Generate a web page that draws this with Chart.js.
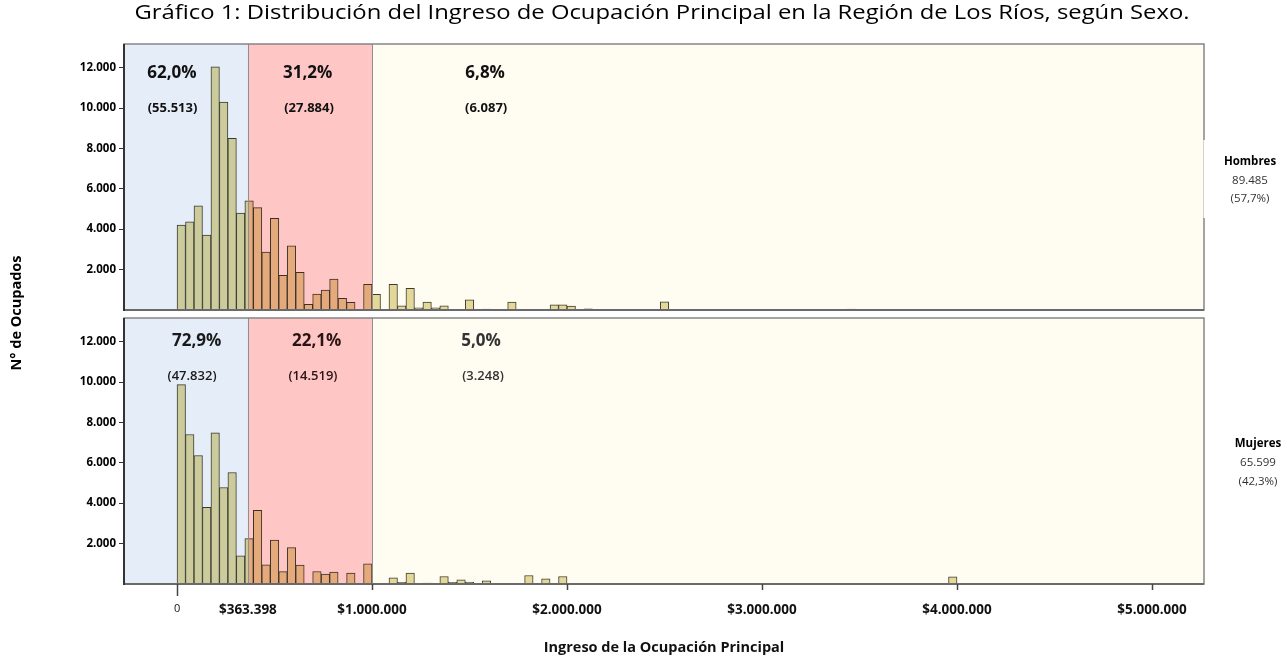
<!DOCTYPE html>
<html><head><meta charset="utf-8">
<script src="https://cdn.jsdelivr.net/npm/chart.js@4/dist/chart.umd.min.js"></script>
<style>
html,body{margin:0;padding:0;background:#fff;}
#wrap{position:relative;width:1285px;height:660px;overflow:hidden;}
canvas{position:absolute;left:0;top:0;}
</style></head><body>
<div id="wrap"><canvas id="c1" width="1285" height="660"></canvas><canvas id="c2" width="1285" height="660"></canvas></div>
<script>
// ---------- DATA ----------
const tituloGrafico = 'Gráfico 1: Distribución del Ingreso de Ocupación Principal en la Región de Los Ríos, según Sexo.';
const tituloEjeY = 'N° de Ocupados';
const tituloEjeX = 'Ingreso de la Ocupación Principal';
const anchoTramo = 1000000 / 23;           // histogram bin width ($)
// N° de ocupados per bin (bin i covers [i*anchoTramo, (i+1)*anchoTramo) )
const hombres = [
  4200, 4370, 5160, 3710, 12040, 10300, 8500, 4800, 5400, 5070,
  2870, 4540, 1720, 3180, 1860, 280, 790, 990, 1530, 580,
  380, null, 1270, 780, null, 1270, 210, 1070, 110, 390,
  110, 210, null, null, 500, null, 50, null, null, 390,
  null, null, null, null, 250, 250, 200, null, 60, null,
  null, null, null, null, null, null, null, 400, null, null,
  null, null, null, null, null, null, null, null, null, null,
  null, null, null, null, null, null, null, null, null, 50,
  null, null, null, null, null, null, null, null, null, null,
  null, null
];
const mujeres = [
  9870, 7400, 6360, 3790, 7490, 4780, 5520, 1390, 2250, 3650,
  950, 2180, 610, 1800, 940, null, 620, 490, 590, null,
  540, null, 1000, null, null, 310, 80, 540, null, 40,
  null, 370, 80, 210, 100, null, 160, null, null, null,
  null, 420, null, 250, null, 370, null, null, null, null,
  null, null, null, null, null, null, null, null, null, null,
  null, null, null, null, null, null, null, null, null, null,
  null, null, null, null, null, null, null, null, null, null,
  null, null, null, null, null, null, null, null, null, null,
  null, 350
];
const limitesTramos = [363398, 1000000];
const xTickValues = [0, 363398, 1000000, 2000000, 3000000, 4000000, 5000000];
const xTickLabels = ['0', '$363.398', '$1.000.000', '$2.000.000', '$3.000.000', '$4.000.000', '$5.000.000'];
const yTickValues = [2000, 4000, 6000, 8000, 10000, 12000];
const yTickLabels = ['2.000', '4.000', '6.000', '8.000', '10.000', '12.000'];
const hombresPct = ['62,0%', '31,2%', '6,8%'];
const hombresN = ['(55.513)', '(27.884)', '(6.087)'];
const mujeresPct = ['72,9%', '22,1%', '5,0%'];
const mujeresN = ['(47.832)', '(14.519)', '(3.248)'];
const hombresTotal = ['Hombres', '89.485', '(57,7%)'];
const mujeresTotal = ['Mujeres', '65.599', '(42,3%)'];

// ---------- STYLE ----------
const FONT = "'Open Sans', 'Noto Sans', sans-serif";
const X_MIN = -272000, X_MAX = 5266667, Y_MAX = 13170;

const toPoints = arr => arr.map((v, i) => ({ x: (i + 0.5) * anchoTramo, y: v }));

function stretchedText(ctx, text, cx, cy, width) {
  const w = ctx.measureText(text).width;
  ctx.save();
  ctx.translate(cx, cy);
  ctx.scale(width / w, 1);
  ctx.fillText(text, 0, 0);
  ctx.restore();
}

const panelPlugin = {
  id: 'panel',
  afterDatasetsDraw(chart, args, o) {
    const { ctx, chartArea: a, scales: { x } } = chart;
    const b1 = x.getPixelForValue(limitesTramos[0]);
    const b2 = x.getPixelForValue(limitesTramos[1]);
    const h = a.bottom - a.top;
    ctx.save();
    ctx.globalCompositeOperation = 'multiply';
    ctx.fillStyle = '#e5edf8'; ctx.fillRect(a.left, a.top, b1 - a.left, h);
    ctx.fillStyle = '#ffc6c6'; ctx.fillRect(b1, a.top, b2 - b1, h);
    ctx.fillStyle = '#fffcf2'; ctx.fillRect(b2, a.top, a.right - b2, h);
    ctx.restore();
    ctx.save();
    ctx.strokeStyle = '#8f8f8f'; ctx.lineWidth = 1;
    [b1, b2].forEach(p => { ctx.beginPath(); ctx.moveTo(Math.round(p) + 0.5, a.top); ctx.lineTo(Math.round(p) + 0.5, a.bottom); ctx.stroke(); });
    ctx.strokeStyle = '#858585'; ctx.lineWidth = 1.5;
    ctx.strokeRect(a.left, a.top, a.right - a.left, h);
    ctx.strokeStyle = '#6a6a6a'; ctx.lineWidth = 2;
    ctx.beginPath(); ctx.moveTo(a.left, a.bottom); ctx.lineTo(a.right, a.bottom); ctx.stroke();
    ctx.strokeStyle = '#333'; ctx.lineWidth = 2;
    ctx.beginPath(); ctx.moveTo(a.left, a.top); ctx.lineTo(a.left, a.bottom + 1); ctx.stroke();
    if (o.xTicks) {
      ctx.strokeStyle = '#444'; ctx.lineWidth = 1.5;
      xTickValues.forEach(v => {
        if (v === limitesTramos[0]) return;
        const p = Math.round(x.getPixelForValue(v)) + 0.5;
        ctx.beginPath(); ctx.moveTo(p, a.bottom); ctx.lineTo(p, a.bottom + (v === 0 ? 12 : 6)); ctx.stroke();
      });
    }
    ctx.restore();
  },
  afterDraw(chart, args, o) {
    const { ctx, chartArea: a, scales: { x, y } } = chart;
    ctx.save();
    ctx.textAlign = 'center'; ctx.textBaseline = 'middle';
    for (let i = 0; i < 3; i++) {
      ctx.fillStyle = o.colors[i];
      ctx.font = `bold ${o.pctSize}px ${FONT}`;
      ctx.fillText(o.pct[i], x.getPixelForValue(o.pctX[i]), y.getPixelForValue(o.pctY));
      ctx.font = `${o.nWeight} ${o.nSize}px ${FONT}`;
      ctx.fillText(o.n[i], x.getPixelForValue(o.nX[i]), y.getPixelForValue(o.nY));
    }
    if (o.whiteBox) { ctx.fillStyle = '#fff'; ctx.fillRect(...o.whiteBox); }
    ctx.fillStyle = '#000';
    ctx.font = `bold 11.5px ${FONT}`;
    ctx.fillText(o.total[0], o.totalX, o.totalY[0]);
    ctx.fillStyle = '#333';
    ctx.font = `11.5px ${FONT}`;
    ctx.fillText(o.total[1], o.totalX, o.totalY[1]);
    ctx.fillText(o.total[2], o.totalX, o.totalY[2]);
    if (o.mainTitle) {
      ctx.fillStyle = '#000';
      ctx.font = `20px ${FONT}`;
      stretchedText(ctx, tituloGrafico, 662, 13, 1055);
      ctx.font = `bold 13.5px ${FONT}`;
      ctx.translate(17, 313); ctx.rotate(-Math.PI / 2);
      stretchedText(ctx, tituloEjeY, 0, 0, 115);
    }
    ctx.restore();
  }
};

function yScale() {
  return {
    min: 0, max: Y_MAX,
    afterFit(s) { s.width = 124; },
    afterBuildTicks(s) { s.ticks = yTickValues.map(v => ({ value: v })); },
    ticks: { callback: v => yTickLabels[yTickValues.indexOf(v)], font: { family: FONT, size: 11.5, weight: 'bold' }, color: '#000', padding: 3 },
    grid: { drawOnChartArea: false, drawTicks: true, tickLength: 5, tickColor: '#333', offset: false },
    border: { display: false }
  };
}
function dataset(arr) {
  return { data: toPoints(arr), backgroundColor: '#e4dba0', borderColor: '#3e3e32', borderWidth: 1,
    borderSkipped: false, barPercentage: 1, categoryPercentage: 1 };
}

new Chart(document.getElementById('c1'), {
  type: 'bar',
  data: { datasets: [dataset(hombres)] },
  options: {
    responsive: false, animation: false, events: [],
    layout: { padding: { left: 0, right: 81, top: 44, bottom: 350 } },
    plugins: { legend: { display: false }, tooltip: { enabled: false },
      panel: { pct: hombresPct, n: hombresN, pctX: [-26000, 670000, 1580000], nX: [-23000, 677000, 1585000],
        pctY: 11730, nY: 10000, pctSize: 17, nSize: 13, nWeight: 'bold', colors: ['#111', '#111', '#111'],
        total: hombresTotal, totalX: 1250, totalY: [162, 181, 199], whiteBox: [1203.5, 140, 82, 78], mainTitle: true, xTicks: false } },
    scales: { x: { type: 'linear', min: X_MIN, max: X_MAX, display: false, offset: false }, y: yScale() }
  },
  plugins: [panelPlugin]
});

new Chart(document.getElementById('c2'), {
  type: 'bar',
  data: { datasets: [dataset(mujeres)] },
  options: {
    responsive: false, animation: false, events: [],
    layout: { padding: { left: 0, right: 81, top: 318, bottom: 0 } },
    plugins: { legend: { display: false }, tooltip: { enabled: false },
      panel: { pct: mujeresPct, n: mujeresN, pctX: [101000, 716000, 1559000], nX: [77000, 697000, 1569000],
        pctY: 12000, nY: 10300, pctSize: 17, nSize: 13, nWeight: '600', colors: ['#1a1a1a', '#2a1414', '#333'],
        total: mujeresTotal, totalX: 1258, totalY: [444, 462.5, 481.5], whiteBox: null, mainTitle: false, xTicks: true } },
    scales: {
      x: { type: 'linear', min: X_MIN, max: X_MAX, position: 'bottom', offset: false,
        afterFit(s) { s.height = 76; },
        afterBuildTicks(s) { s.ticks = xTickValues.map(v => ({ value: v })); },
        ticks: { autoSkip: false, maxRotation: 0, padding: 18, color: '#111',
          callback: v => xTickLabels[xTickValues.indexOf(v)],
          font: c => (c.tick && c.tick.value === 0) ? { family: FONT, size: 11, weight: 'normal' } : { family: FONT, size: 13.5, weight: 'bold' } },
        grid: { drawOnChartArea: false, drawTicks: false, tickLength: 6, offset: false },
        border: { display: false },
        title: { display: true, text: tituloEjeX, font: { family: FONT, size: 14.5, weight: 'bold' }, color: '#111', padding: { top: 0, bottom: 3 } }
      },
      y: yScale()
    }
  },
  plugins: [panelPlugin]
});
</script></body></html>
